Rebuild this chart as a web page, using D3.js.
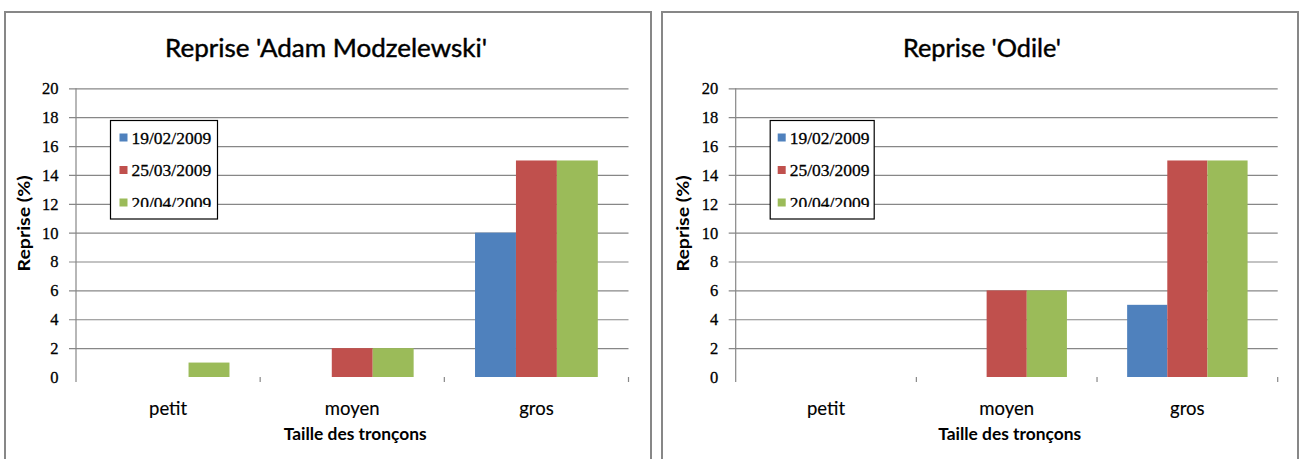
<!DOCTYPE html>
<html>
<head>
<meta charset="utf-8">
<script src="https://cdn.jsdelivr.net/npm/d3@7"></script>
<style>
  html, body { margin: 0; padding: 0; background: #fff; }
  svg { display: block; }
</style>
</head>
<body>
<svg id="chart" width="1300" height="459"></svg>
<script>
// Categories (size of the cuttings) and survey dates
const categories = ["petit", "moyen", "gros"];
const seriesNames = ["19/02/2009", "25/03/2009", "20/04/2009"];
const seriesColors = ["#4F81BD", "#C0504D", "#9BBB59"];
const yTicks = [0, 2, 4, 6, 8, 10, 12, 14, 16, 18, 20];

// Reprise (%) — 'Adam Modzelewski'
const adam_19_02 = [0, 0, 10];
const adam_25_03 = [0, 2, 15];
const adam_20_04 = [1, 2, 15];

// Reprise (%) — 'Odile'
const odile_19_02 = [0, 0, 5];
const odile_25_03 = [0, 6, 15];
const odile_20_04 = [0, 6, 15];

const svg = d3.select("#chart");
const GRID = "#878787";
const SANS = "Lato, 'Open Sans', sans-serif";
const SERIF = "'Liberation Serif', 'DejaVu Serif', serif";

function drawChart(cfg) {
  const g = svg.append("g");
  const series = [cfg.s1, cfg.s2, cfg.s3];

  // chart frame
  g.append("rect")
    .attr("x", cfg.frame[0]).attr("y", 12)
    .attr("width", cfg.frame[1] - cfg.frame[0]).attr("height", 470)
    .attr("fill", "#fff").attr("stroke", GRID).attr("stroke-width", 2);

  const top = 88.3, bottom = 377;
  const y = d3.scaleLinear().domain([0, 20]).range([bottom, top]);
  const x = d3.scaleBand().domain(categories).range([cfg.left, cfg.right]).padding(0);
  const bw = x.bandwidth();
  const xs = d3.scaleBand().domain(seriesNames).range([bw / 6, bw * 5 / 6]).padding(0);

  // horizontal gridlines (0 level has none), extending past the axis as ticks
  const yAxis = d3.axisLeft(y).tickValues(yTicks)
    .tickSize(-(cfg.right - cfg.left) - 7).tickSizeOuter(0).tickFormat("");
  const ya = g.append("g").attr("transform", `translate(${cfg.right},0)`).call(yAxis);
  ya.select(".domain").remove();
  ya.selectAll(".tick line").attr("stroke", GRID).attr("stroke-width", 1.2)
    .attr("x1", 0).attr("x2", -(cfg.right - cfg.left) - 7);
  ya.selectAll(".tick").filter(d => d === 0).select("line").remove();

  // y tick labels
  g.append("g").selectAll("text").data(yTicks).join("text")
    .attr("x", cfg.left - 17.5).attr("y", d => y(d)).attr("dy", "0.36em")
    .attr("text-anchor", "end")
    .attr("font-family", SERIF).attr("font-size", 16.5).attr("fill", "#000")
    .attr("stroke", "#000").attr("stroke-width", 0.3)
    .text(d => d);

  // vertical axis line
  g.append("line")
    .attr("x1", cfg.left).attr("x2", cfg.left)
    .attr("y1", top).attr("y2", bottom + 5)
    .attr("stroke", GRID).attr("stroke-width", 1.2);

  // category boundary tick marks along the bottom
  const bounds = categories.map(c => x(c) + bw);
  g.append("g").selectAll("line").data(bounds).join("line")
    .attr("x1", d => d).attr("x2", d => d)
    .attr("y1", bottom).attr("y2", bottom + 5)
    .attr("stroke", GRID).attr("stroke-width", 1.2);

  // bars
  series.forEach((vals, si) => {
    g.append("g").selectAll("rect").data(vals).join("rect")
      .attr("x", (d, i) => x(categories[i]) + xs(seriesNames[si]))
      .attr("width", xs.bandwidth())
      .attr("y", d => y(d))
      .attr("height", d => y(0) - y(d))
      .attr("fill", seriesColors[si]);
  });

  // category labels
  g.append("g").selectAll("text").data(categories).join("text")
    .attr("x", d => x(d) + bw / 2).attr("y", 415)
    .attr("text-anchor", "middle")
    .attr("font-family", SANS).attr("font-size", 18.5).attr("fill", "#000")
    .attr("stroke", "#000").attr("stroke-width", 0.15)
    .text(d => d);

  // axis titles
  g.append("text")
    .attr("x", (cfg.left + cfg.right) / 2 + 3).attr("y", 440)
    .attr("text-anchor", "middle")
    .attr("font-family", SANS).attr("font-weight", "bold").attr("font-size", 17.5)
    .attr("fill", "#000")
    .attr("textLength", 143).attr("lengthAdjust", "spacingAndGlyphs")
    .text("Taille des tronçons");

  g.append("text")
    .attr("transform", `translate(${cfg.left - 46.5},${223.5}) rotate(-90)`)
    .attr("text-anchor", "middle")
    .attr("font-family", SANS).attr("font-weight", "bold").attr("font-size", 17.5)
    .attr("fill", "#000")
    .attr("textLength", 96).attr("lengthAdjust", "spacingAndGlyphs")
    .text("Reprise (%)");

  // chart title
  g.append("text")
    .attr("x", cfg.titleX).attr("y", 56.7)
    .attr("text-anchor", "middle")
    .attr("font-family", SANS).attr("font-size", 25).attr("fill", "#000")
    .attr("stroke", "#000").attr("stroke-width", 0.45)
    .attr("textLength", cfg.titleW).attr("lengthAdjust", "spacingAndGlyphs")
    .text(cfg.title);

  // legend
  const lx = cfg.left + 34.5, ly = 120.5;
  const clipId = "legclip" + cfg.id;
  g.append("clipPath").attr("id", clipId)
    .append("rect").attr("x", lx).attr("y", ly).attr("width", cfg.legendW).attr("height", 86.5);
  const leg = g.append("g");
  leg.append("rect")
    .attr("x", lx).attr("y", ly).attr("width", cfg.legendW).attr("height", 98.5)
    .attr("fill", "#fff").attr("stroke", "#000").attr("stroke-width", 1.2);
  const items = leg.append("g").attr("clip-path", `url(#${clipId})`)
    .selectAll("g").data(seriesNames).join("g")
    .attr("transform", (d, i) => `translate(${lx},${ly + 17 + i * 32.5})`);
  items.append("rect")
    .attr("x", cfg.swX).attr("y", -4).attr("width", 8).attr("height", 8)
    .attr("fill", (d, i) => seriesColors[i]);
  items.append("text")
    .attr("x", cfg.swX + 12).attr("y", 6)
    .attr("font-family", SERIF).attr("font-size", 17.5).attr("fill", "#000")
    .attr("stroke", "#000").attr("stroke-width", 0.3)
    .text(d => d);
}

drawChart({
  id: "a", frame: [5, 651], left: 76, right: 628.5,
  title: "Reprise 'Adam Modzelewski'", titleX: 326, titleW: 322,
  legendW: 107, swX: 9,
  s1: adam_19_02, s2: adam_25_03, s3: adam_20_04
});

drawChart({
  id: "o", frame: [662, 1298], left: 735.7, right: 1277.7,
  title: "Reprise 'Odile'", titleX: 982, titleW: 158,
  legendW: 104, swX: 7.5,
  s1: odile_19_02, s2: odile_25_03, s3: odile_20_04
});
</script>
</body>
</html>
